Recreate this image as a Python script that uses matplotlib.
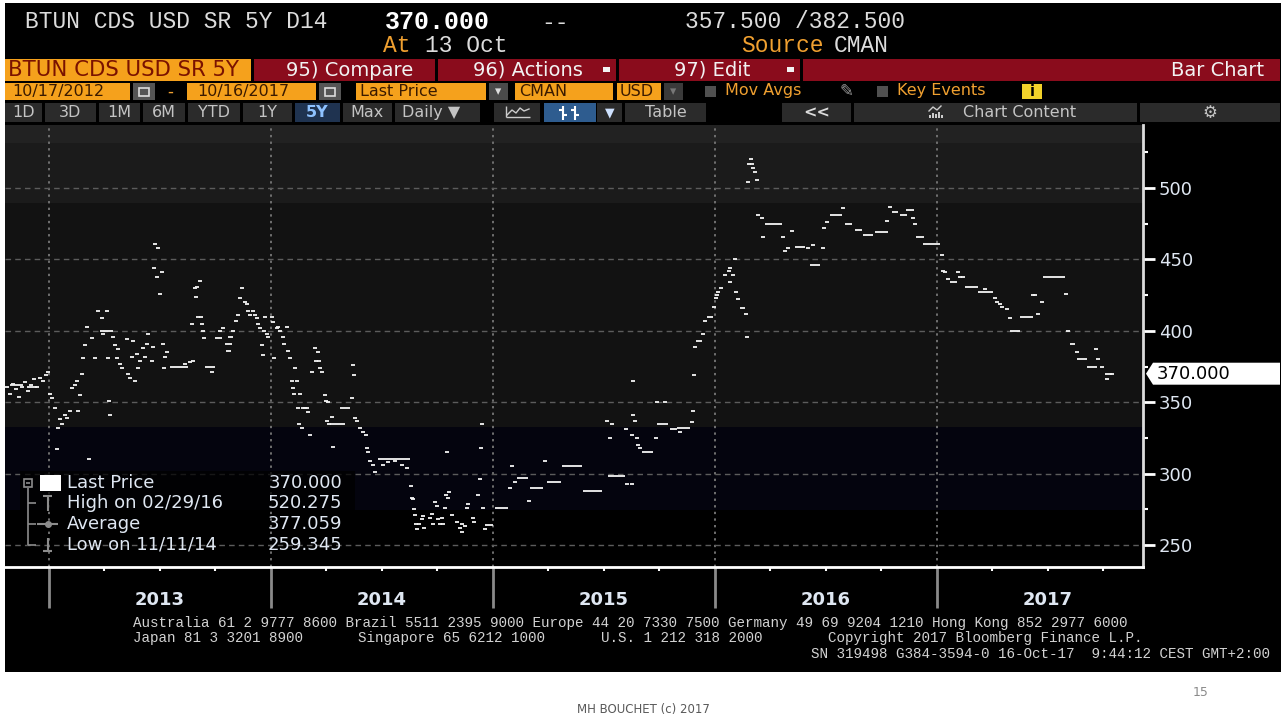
import matplotlib
matplotlib.use('Agg')
import matplotlib.pyplot as plt
from matplotlib.patches import Rectangle, Polygon
from matplotlib import transforms

# ---------------- data ----------------
dot_dates = [
    2012.811, 2012.824, 2012.838, 2012.851, 2012.865, 2012.878, 2012.892, 2012.905, 2012.919, 2012.932,
    2012.946, 2012.959, 2012.973, 2012.986, 2012.995, 2013.005, 2013.014, 2013.027, 2013.036, 2013.041,
    2013.050, 2013.059, 2013.072, 2013.081, 2013.095, 2013.104, 2013.117, 2013.126, 2013.131, 2013.140,
    2013.149, 2013.153, 2013.162, 2013.171, 2013.180, 2013.194, 2013.207, 2013.221, 2013.239, 2013.243,
    2013.261, 2013.266, 2013.270, 2013.275, 2013.288, 2013.297, 2013.306, 2013.311, 2013.320, 2013.329,
    2013.351, 2013.356, 2013.365, 2013.374, 2013.378, 2013.387, 2013.396, 2013.401, 2013.410, 2013.423,
    2013.432, 2013.441, 2013.446, 2013.464, 2013.468, 2013.473, 2013.477, 2013.486, 2013.491, 2013.500,
    2013.509, 2013.514, 2013.518, 2013.523, 2013.532, 2013.613, 2013.635, 2013.644, 2013.649, 2013.658,
    2013.662, 2013.667, 2013.671, 2013.680, 2013.685, 2013.689, 2013.694, 2013.698, 2013.734, 2013.770,
    2013.784, 2013.829, 2013.842, 2013.851, 2013.860, 2013.869, 2013.883, 2013.892, 2013.896, 2013.905,
    2013.919, 2013.928, 2013.937, 2013.941, 2013.950, 2013.959, 2013.964, 2013.968, 2013.973, 2013.982,
    2013.986, 2014.005, 2014.009, 2014.014, 2014.027, 2014.032, 2014.041, 2014.054, 2014.059, 2014.072,
    2014.077, 2014.086, 2014.095, 2014.099, 2014.104, 2014.108, 2014.117, 2014.122, 2014.126, 2014.131,
    2014.140, 2014.144, 2014.153, 2014.162, 2014.167, 2014.176, 2014.185, 2014.198, 2014.203, 2014.212,
    2014.216, 2014.221, 2014.230, 2014.243, 2014.248, 2014.252, 2014.257, 2014.261, 2014.275, 2014.279,
    2014.365, 2014.369, 2014.374, 2014.378, 2014.387, 2014.401, 2014.414, 2014.428, 2014.432, 2014.437,
    2014.446, 2014.459, 2014.468, 2014.505, 2014.527, 2014.559, 2014.590, 2014.613, 2014.631, 2014.635,
    2014.640, 2014.644, 2014.648, 2014.653, 2014.658, 2014.667, 2014.680, 2014.685, 2014.689, 2014.716,
    2014.725, 2014.730, 2014.739, 2014.748, 2014.752, 2014.761, 2014.770, 2014.775, 2014.784, 2014.788,
    2014.793, 2014.797, 2014.802, 2014.815, 2014.838, 2014.851, 2014.860, 2014.862, 2014.874, 2014.883,
    2014.887, 2014.910, 2014.914, 2014.932, 2014.941, 2014.946, 2014.950, 2014.955, 2014.964, 2015.077,
    2015.086, 2015.099, 2015.162, 2015.234, 2015.514, 2015.527, 2015.536, 2015.599, 2015.604, 2015.626,
    2015.628, 2015.631, 2015.633, 2015.640, 2015.649, 2015.653, 2015.662, 2015.734, 2015.739, 2015.775,
    2015.842, 2015.896, 2015.901, 2015.905, 2015.910, 2015.946, 2015.955, 2015.995, 2016.005, 2016.009,
    2016.014, 2016.027, 2016.063, 2016.066, 2016.068, 2016.081, 2016.090, 2016.095, 2016.104, 2016.140,
    2016.144, 2016.149, 2016.153, 2016.162, 2016.167, 2016.171, 2016.180, 2016.189, 2016.194, 2016.212,
    2016.216, 2016.306, 2016.315, 2016.329, 2016.347, 2016.419, 2016.441, 2016.486, 2016.490, 2016.505,
    2016.577, 2016.775, 2016.788, 2016.869, 2016.887, 2016.892, 2016.901, 2016.914, 2016.932, 2017.023,
    2017.027, 2017.036, 2017.050, 2017.095, 2017.104, 2017.117, 2017.216, 2017.261, 2017.270, 2017.284,
    2017.293, 2017.315, 2017.329, 2017.432, 2017.441, 2017.455, 2017.473, 2017.581, 2017.590, 2017.631,
    2017.716, 2017.725, 2017.743, 2017.766, 2017.788,
]
dot_values = [
    361, 356, 363, 359, 354, 361, 364, 358, 362, 366,
    361, 367, 365, 369, 371, 356, 353, 346, 317, 332,
    338, 335, 341, 339, 344, 360, 362, 365, 344, 355,
    370, 381, 390, 403, 310, 395, 381, 414, 409, 398,
    414, 381, 351, 341, 396, 390, 381, 387, 377, 374,
    394, 370, 367, 382, 393, 365, 384, 374, 379, 388,
    382, 391, 398, 379, 389, 444, 461, 438, 458, 426,
    441, 391, 374, 382, 385, 377, 378, 405, 379, 430,
    424, 431, 410, 435, 410, 405, 400, 395, 371, 400,
    402, 400, 407, 411, 423, 430, 420, 419, 414, 411,
    414, 411, 409, 405, 402, 390, 383, 400, 410, 398,
    396, 410, 406, 381, 402, 403, 400, 396, 391, 403,
    386, 381, 365, 360, 356, 374, 365, 346, 335, 356,
    332, 346, 346, 346, 343, 327, 371, 388, 379, 385,
    379, 374, 371, 355, 351, 337, 350, 335, 340, 319,
    353, 376, 369, 339, 337, 332, 329, 327, 318, 315,
    309, 306, 301, 306, 308, 309, 306, 304, 291, 283,
    282, 275, 271, 265, 261, 265, 268, 270, 262, 269,
    272, 265, 280, 277, 268, 265, 269, 265, 276, 285,
    315, 283, 287, 271, 266, 262, 265, 259.345, 263, 276,
    279, 269, 266, 285, 296, 318, 335, 276, 261, 290,
    305, 294, 281, 309, 337, 325, 335, 331, 293, 327,
    293, 341, 365, 337, 325, 320, 318, 325, 350, 350,
    329, 336, 344, 369, 389, 398, 407, 417, 423, 425,
    427, 430, 442, 434, 444, 439, 450, 427, 422, 412,
    396, 504, 517, 520.275, 517, 514, 511, 506, 481, 479,
    466, 466, 456, 458, 470, 458, 460, 458, 472, 476,
    486, 477, 487, 485, 485, 479, 475, 466, 466, 453,
    442, 441, 436, 441, 438, 438, 429, 423, 420, 419,
    417, 415, 409, 425, 425, 412, 420, 426, 400, 385,
    387, 380, 375, 366, 370,
]

flat_start = [
    2012.824, 2012.901, 2013.230, 2013.545, 2013.703, 2013.748, 2013.793, 2013.797, 2013.806, 2014.266,
    2014.311, 2014.482, 2014.964, 2015.009, 2015.108, 2015.167, 2015.243, 2015.311, 2015.405, 2015.518,
    2015.671, 2015.739, 2015.797, 2015.829, 2015.914, 2015.964, 2016.036, 2016.113, 2016.225, 2016.360,
    2016.428, 2016.518, 2016.586, 2016.631, 2016.667, 2016.721, 2016.797, 2016.833, 2016.937, 2017.059,
    2017.126, 2017.185, 2017.329, 2017.374, 2017.477, 2017.599, 2017.631, 2017.676, 2017.757,
]
flat_end = [
    2012.883, 2012.946, 2013.288, 2013.626, 2013.748, 2013.779, 2013.824, 2013.820, 2013.829, 2014.333,
    2014.356, 2014.626, 2015.000, 2015.068, 2015.158, 2015.225, 2015.306, 2015.401, 2015.491, 2015.595,
    2015.721, 2015.788, 2015.829, 2015.887, 2015.941, 2015.991, 2016.054, 2016.135, 2016.302, 2016.405,
    2016.473, 2016.572, 2016.617, 2016.662, 2016.712, 2016.779, 2016.824, 2016.865, 2017.014, 2017.090,
    2017.185, 2017.252, 2017.374, 2017.432, 2017.577, 2017.622, 2017.676, 2017.721, 2017.788,
]
flat_values = [
    362, 361, 400, 375, 375, 395, 391, 386, 396, 335,
    346, 310, 264, 276, 297, 290, 294, 305, 288, 298,
    315, 335, 331, 332, 393, 410, 439, 416, 475, 459,
    446, 481, 475, 471, 467, 469, 483, 481, 461, 434,
    431, 427, 400, 410, 438, 391, 380, 375, 370,
]

y_major = [250, 300, 350, 400, 450, 500]
y_minor = [275, 325, 375, 425, 475, 525]
year_starts = [2013, 2014, 2015, 2016, 2017]
year_labels = ['2013', '2014', '2015', '2016', '2017']
quarter_ticks = [2013.25, 2013.5, 2013.75, 2014.25, 2014.5, 2014.75, 2015.25, 2015.5,
                 2015.75, 2016.25, 2016.5, 2016.75, 2017.25, 2017.5, 2017.75]
x_range = (2012.802, 2017.928)
y_range = (234.6, 544.2)
band_lo = [531.5, 489.5, 332.5, 274.8, 234.6]
band_hi = [544.2, 531.5, 489.5, 332.5, 274.8]
band_col = ['#222222', '#1b1b1b', '#121212', '#04040e', '#000000']

last_price = 370.000
high_value, high_date = 520.275, '02/29/16'
avg_value = 377.059
low_value, low_date = 259.345, '11/11/14'

# ---------------- figure ----------------
W, H = 1287, 722
PT = 72 / 100  # points per pixel
fig = plt.figure(figsize=(W / 100, H / 100), dpi=100)
fig.patch.set_facecolor('white')

bg = fig.add_axes([0, 0, 1, 1], zorder=0)
bg.set_xlim(0, W)
bg.set_ylim(H, 0)
bg.axis('off')

fg = fig.add_axes([0, 0, 1, 1], zorder=5)
fg.set_xlim(0, W)
fg.set_ylim(H, 0)
fg.axis('off')
fg.patch.set_alpha(0)


def box(x0, y0, x1, y1, color, a=bg, z=1, alpha=1.0, ec='none', lw=0):
    a.add_patch(Rectangle((x0, y0), x1 - x0, y1 - y0, fc=color, ec=ec, lw=lw, zorder=z, alpha=alpha))


def txt(x, y, s, size=11, color='#d0d0d0', ha='left', va='center', family='DejaVu Sans',
        weight='normal', a=bg, z=3):
    a.text(x, y, s, fontsize=size, color=color, ha=ha, va=va, family=family,
           fontweight=weight, zorder=z)


def seg(x0, y0, x1, y1, color, lw=1.5, a=bg, z=3):
    a.plot([x0, x1], [y0, y1], color=color, lw=lw, zorder=z, solid_capstyle='butt')


MONO = 'Liberation Mono'
ORANGE = '#f5a11c'
ORTXT = '#f0a030'
DARK = '#3a1a00'
RED = '#8a0c1c'
LIGHT = '#dcdcdc'
LBL = '#dfe7f2'

# black terminal area
box(5, 3, 1281, 672, '#000000', z=0)

# ---- header ----
txt(25, 22, 'BTUN CDS USD SR 5Y D14', 16.5, LIGHT, family=MONO)
txt(385, 22, '370.000', 18, '#ffffff', family=MONO, weight='bold')
txt(541, 22, '--', 16.5, LIGHT, family=MONO)
txt(685, 22, '357.500 /382.500', 16.5, LIGHT, family=MONO)
txt(383, 46, 'At', 16.5, ORTXT, family=MONO)
txt(425, 46, '13 Oct', 16.5, LIGHT, family=MONO)
txt(741, 46, 'Source', 16.5, ORTXT, family=MONO)
txt(834, 46, 'CMAN', 16.5, LIGHT, family=MONO)

# ---- toolbar row 1 ----
box(5, 59, 251, 81, ORANGE)
txt(8, 70.5, 'BTUN CDS USD SR 5Y', 15.3, '#7a1200')
box(254, 59, 435, 81, RED)
txt(350, 70.5, '95) Compare', 14, '#f2f2f2', ha='center')
box(438, 59, 616, 81, RED)
txt(528, 70.5, '96) Actions', 14, '#f2f2f2', ha='center')
box(603, 67, 610, 72, '#f2f2f2', z=3)
box(619, 59, 800, 81, RED)
txt(712, 70.5, '97) Edit', 14, '#f2f2f2', ha='center')
box(787, 67, 794, 72, '#f2f2f2', z=3)
box(803, 59, 1280, 81, RED)
txt(1264, 70.5, 'Bar Chart', 14, '#f2f2f2', ha='right')

# ---- toolbar row 2 ----
box(5, 83, 130, 100, ORANGE)
txt(12, 91.5, '10/17/2012', 11.5, DARK)
box(133, 83, 155, 100, '#555555')
box(139, 88, 149, 96, 'none', z=3, ec='#dddddd', lw=1.2)
txt(170, 91.5, '-', 12, ORTXT, ha='center')
box(187, 83, 316, 100, ORANGE)
txt(197, 91.5, '10/16/2017', 11.5, DARK)
box(319, 83, 341, 100, '#555555')
box(325, 88, 335, 96, 'none', z=3, ec='#dddddd', lw=1.2)
box(356, 83, 486, 100, ORANGE)
txt(360, 91.5, 'Last Price', 11.5, DARK)
box(489, 83, 508, 100, '#4a4a4a')
txt(498.5, 91.5, '\u25be', 9, '#dddddd', ha='center')
box(515, 83, 613, 100, ORANGE)
txt(519, 91.5, 'CMAN', 11.5, DARK)
box(617, 83, 661, 100, ORANGE)
txt(620, 91.5, 'USD', 11.5, DARK)
box(664, 83, 683, 100, '#3a3a3a')
txt(673.5, 91.5, '\u25be', 9, '#777777', ha='center')
box(705, 86, 716, 97, '#505050')
txt(725, 90.5, 'Mov Avgs', 11.5, ORTXT)
txt(846, 91.5, '\u270e', 12, '#9a9a9a', ha='center')
box(877, 86, 888, 97, '#505050')
txt(897, 90.5, 'Key Events', 11.5, ORTXT)
box(1022, 84, 1042, 99, '#f2d22a')
txt(1032, 91.5, 'i', 10.5, '#000000', ha='center', weight='bold')

# ---- toolbar row 3 ----
BTN = '#2b2b2b'
BTXT = '#c4c4c4'
buttons = [(5, 42, '1D'), (45, 96, '3D'), (99, 140, '1M'), (143, 185, '6M'), (188, 240, 'YTD'),
           (243, 292, '1Y'), (343, 392, 'Max')]
for x0, x1, lab in buttons:
    box(x0, 103, x1, 122, BTN)
    txt((x0 + x1) / 2, 112.5, lab, 11.5, BTXT, ha='center')
box(295, 103, 340, 122, '#1f3350')
txt(317.5, 112.5, '5Y', 11.5, '#8ec2ff', ha='center', weight='bold')
box(395, 103, 480, 122, BTN)
txt(402, 112.5, 'Daily \u25bc', 11.5, BTXT)
box(494, 103, 540, 122, BTN)
bg.plot([507, 512, 516, 520, 524, 529], [115, 110, 113, 108, 111, 109], color='#cccccc', lw=1, zorder=3)
seg(506, 117, 530, 117, '#cccccc', 1)
seg(506, 106, 506, 117, '#cccccc', 1)
box(544, 103, 596, 122, '#2e5c8f')
for cx in (563, 575):
    seg(cx, 106, cx, 120, '#ffffff', 1.5)
    seg(cx - 4, 110, cx, 110, '#ffffff', 1.5)
    seg(cx, 115, cx + 4, 115, '#ffffff', 1.5)
box(597, 103, 622, 122, BTN)
txt(609.5, 112.5, '\u25bc', 9, '#cfe2ff', ha='center')
box(625, 103, 706, 122, BTN)
txt(665.5, 112.5, 'Table', 11.5, BTXT, ha='center')
box(782, 103, 851, 122, BTN)
txt(816.5, 112.5, '<<', 11.5, '#dddddd', ha='center', weight='bold')
box(854, 103, 1137, 122, BTN)
txt(963, 112.5, 'Chart Content', 11.5, BTXT)
bg.plot([929, 933, 937, 941], [111, 107, 110, 106], color='#cccccc', lw=1, zorder=3)
for i, hh in enumerate([3, 5, 4, 6, 3]):
    box(929 + i * 3, 118 - hh, 931 + i * 3, 118, '#cccccc', z=3)
box(1140, 103, 1280, 122, BTN)
txt(1210, 112.5, '\u2699', 12, BTXT, ha='center')

# ---- chart axes ----
ax_l, ax_r, ax_t, ax_b = 5, 1143, 125, 567
ax = fig.add_axes([ax_l / W, 1 - ax_b / H, (ax_r - ax_l) / W, (ax_b - ax_t) / H], zorder=2)
ax.set_facecolor('#000000')
for lo, hi, c in zip(band_lo, band_hi, band_col):
    ax.axhspan(lo, hi, color=c, lw=0, zorder=0)

ax.set_yticks(y_major)
ax.set_yticks(y_minor, minor=True)
ax.set_yticklabels([str(v) for v in y_major])
ax.set_xticks(year_starts)
ax.set_xticks(quarter_ticks, minor=True)
ax.set_xticklabels([])
ax.grid(axis='y', which='major', color='#5c5c5c', linestyle=(0, (4, 3)), lw=1.0, zorder=1)
ax.grid(axis='x', which='major', color='#707070', linestyle=(0, (1.2, 2.2)), lw=1.4, zorder=1)
ax.set_axisbelow(True)

ax.yaxis.tick_right()
ax.tick_params(axis='y', which='major', right=True, left=False, length=12 * PT, width=2,
               color='#ffffff', labelcolor=LBL, labelsize=13, pad=4 * PT, direction='out')
ax.tick_params(axis='y', which='minor', right=True, left=False, length=5 * PT, width=1.5,
               color='#ffffff', direction='out')
ax.tick_params(axis='x', which='major', bottom=True, length=41 * PT, width=2, color='#8a8a8a',
               labelbottom=False, direction='out')
ax.tick_params(axis='x', which='minor', bottom=True, length=4 * PT, width=1.5, color='#ffffff',
               direction='out')
for s in ('top', 'left'):
    ax.spines[s].set_visible(False)
ax.spines['right'].set_color('#dcdcdc')
ax.spines['right'].set_linewidth(2)
ax.spines['bottom'].set_color('#ffffff')
ax.spines['bottom'].set_linewidth(2)

# data marks
ax.hlines(flat_values, flat_start, flat_end, color='#f4f4f4', lw=1.3, zorder=3)
ax.plot(dot_dates, dot_values, ls='none', marker='_', ms=2.6, mew=1.3, color='#f4f4f4', zorder=3)
ax.set_xlim(*x_range)
ax.set_ylim(*y_range)

# year labels
xt = transforms.blended_transform_factory(ax.transData, ax.transAxes)
for ys, lab in zip(year_starts, year_labels):
    ax.text(ys + 0.5, -0.075, lab, transform=xt, ha='center', va='center', color=LBL,
            fontsize=13, fontweight='bold', clip_on=False)

# last price tag
tt = transforms.blended_transform_factory(fig.transFigure, ax.transData)
hh = 7.7
tag = Polygon([(1146 / W, last_price), (1153 / W, last_price + hh), (1280 / W, last_price + hh),
               (1280 / W, last_price - hh), (1153 / W, last_price - hh)], closed=True,
              transform=tt, fc='#ffffff', ec='none', zorder=6, clip_on=False)
fig.add_artist(tag)
fig.text(1157 / W, last_price, f'{last_price:.3f}', transform=tt, fontsize=13, color='#000000',
         va='center', ha='left', zorder=7)

# ---- legend ----
box(20, 471, 355, 510, '#000000', a=fg, z=1, alpha=0.75)
GR = '#8c8c8c'
fg.add_patch(Rectangle((24, 479), 8, 8, fc='none', ec=GR, lw=1.2, zorder=3))
seg(26, 483, 30, 483, GR, 1.2, a=fg)
seg(28, 488, 28, 545, GR, 1.2, a=fg)
for yy in (503, 524, 545):
    seg(28, yy, 36, yy, GR, 1.2, a=fg)
box(40, 475, 61, 491, '#ffffff', a=fg, z=3)
# high icon
seg(43, 496, 52, 496, GR, 1.5, a=fg)
seg(47.5, 496, 47.5, 511, GR, 1.5, a=fg)
# average icon
seg(37, 524, 58, 524, GR, 1.5, a=fg)
fg.plot([47.5], [524], marker='o', ms=4, color=GR, zorder=3)
# low icon
seg(47.5, 538, 47.5, 551, GR, 1.5, a=fg)
seg(43, 551, 52, 551, GR, 1.5, a=fg)

leg_rows = [('Last Price', last_price), (f'High on {high_date}', high_value),
            ('Average', avg_value), (f'Low on {low_date}', low_value)]
for i, (lab, val) in enumerate(leg_rows):
    yy = 483 + i * 20.5
    txt(67, yy, lab, 13, LBL, a=fg, z=4)
    txt(342, yy, f'{val:.3f}', 13, LBL, ha='right', a=fg, z=4)

# ---- footer ----
FT = '#d2d2d2'
FS = 10.3
txt(133, 623, 'Australia 61 2 9777 8600 Brazil 5511 2395 9000 Europe 44 20 7330 7500 '
              'Germany 49 69 9204 1210 Hong Kong 852 2977 6000', FS, FT, family=MONO)
txt(133, 638, 'Japan 81 3 3201 8900', FS, FT, family=MONO)
txt(358, 638, 'Singapore 65 6212 1000', FS, FT, family=MONO)
txt(601, 638, 'U.S. 1 212 318 2000', FS, FT, family=MONO)
txt(828, 638, 'Copyright 2017 Bloomberg Finance L.P.', FS, FT, family=MONO)
txt(1270, 654, 'SN 319498 G384-3594-0 16-Oct-17  9:44:12 CEST GMT+2:00', FS, FT, family=MONO,
    ha='right')

# ---- slide footer ----
txt(1201, 692, '15', 9, '#8a8a8a', ha='center')
txt(643, 710, 'MH BOUCHET (c) 2017', 8.5, '#595959', ha='center')

fig.savefig('out.png', dpi=100, facecolor=fig.get_facecolor())
